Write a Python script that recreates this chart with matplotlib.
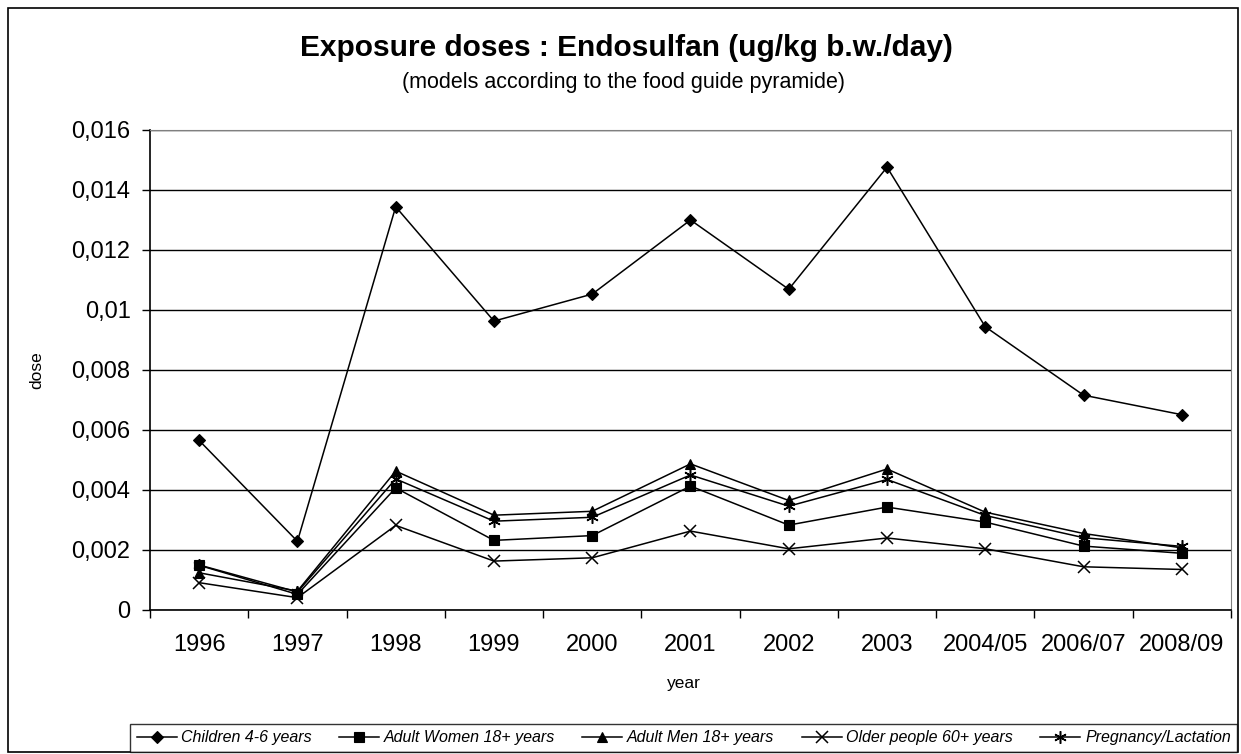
import matplotlib
matplotlib.use("Agg")
import matplotlib.pyplot as plt
from matplotlib.patches import Rectangle
import numpy as np

plt.rcParams['font.family'] = ['Liberation Sans', 'DejaVu Sans']

years = ['1996', '1997', '1998', '1999', '2000', '2001', '2002', '2003',
         '2004/05', '2006/07', '2008/09']

children = [0.00565, 0.00229, 0.01344, 0.00963, 0.01053, 0.01300, 0.01069,
            0.01476, 0.00944, 0.00716, 0.00651]
women = [0.00149, 0.00052, 0.00407, 0.00232, 0.00248, 0.00413, 0.00283,
         0.00343, 0.00293, 0.00213, 0.00189]
men = [0.00124, 0.00063, 0.00463, 0.00316, 0.00329, 0.00487, 0.00365,
       0.00470, 0.00326, 0.00255, 0.00207]
older = [0.00091, 0.00041, 0.00282, 0.00163, 0.00174, 0.00263, 0.00204,
         0.00240, 0.00204, 0.00144, 0.00135]
pregnancy = [0.00150, 0.00060, 0.00437, 0.00296, 0.00309, 0.00450, 0.00346,
             0.00435, 0.00315, 0.00241, 0.00212]

labels = ['Children 4-6 years', 'Adult Women 18+ years', 'Adult Men 18+ years',
          'Older people 60+ years', 'Pregnancy/Lactation']

fig = plt.figure(figsize=(12.41, 7.54), dpi=100)
ax = fig.add_axes([0.1209, 0.191, 0.871, 0.6366])

x = np.arange(len(years))
series = [children, women, men, older, pregnancy]
markers = ['D', 's', '^', 'x', (6, 2, 0)]
msizes = [6, 6.5, 7, 8, 9]
for vals, m, ms, lab in zip(series, markers, msizes, labels):
    ax.plot(x, vals, color='black', lw=1.1, marker=m, markersize=ms,
            markeredgewidth=1.1 if m in ('x',) or isinstance(m, tuple) else 0.8,
            markerfacecolor='black', markeredgecolor='black', label=lab)

ax.set_xlim(-0.5, len(years) - 0.5)
ax.set_ylim(0, 0.016)
yt = np.arange(0, 0.0161, 0.002)
ax.set_yticks(yt)
ax.set_yticklabels([f"{v:.3f}".rstrip('0').rstrip('.').replace('.', ',') if v > 0 else '0' for v in yt],
                   fontsize=17)
ax.yaxis.grid(True, color='black', lw=1)
ax.set_axisbelow(True)
ax.tick_params(axis='y', length=6, width=1, pad=8)

# category axis: ticks between categories, labels at centres
ax.set_xticks(np.arange(-0.5, len(years), 1))
ax.set_xticklabels([])
ax.tick_params(axis='x', which='major', length=5.5, width=1)
ax.set_xticks(x, minor=True)
ax.set_xticklabels(years, minor=True, fontsize=17)
ax.tick_params(axis='x', which='minor', length=0, pad=17)

for s in ['top', 'right']:
    ax.spines[s].set_color('#808080')
for s in ['left', 'bottom']:
    ax.spines[s].set_color('black')
    ax.spines[s].set_linewidth(1.2)

fig.text(0.505, 0.936, 'Exposure doses : Endosulfan (ug/kg b.w./day)',
         ha='center', va='center', fontsize=21.5, fontweight='bold')
fig.text(0.5025, 0.891, '(models according to the food guide pyramide)',
         ha='center', va='center', fontsize=15.5)
fig.text(0.03, 0.509, 'dose', rotation=90, ha='center', va='center', fontsize=12.5)
fig.text(0.551, 0.094, 'year', ha='center', va='center', fontsize=12.5)

leg = fig.legend(loc='lower left', bbox_to_anchor=(0.105, 0.003, 0.892, 0.053),
                 mode='expand', ncol=5, prop={'style': 'italic', 'size': 11.5},
                 frameon=True, fancybox=False, borderaxespad=0, handlelength=2.5,
                 handletextpad=0.3, columnspacing=0.5)
leg.get_frame().set_edgecolor('black')
leg.get_frame().set_linewidth(1)

fig.patches.append(Rectangle((8 / 1241, 0.002), 1230 / 1241, 1 - 8 / 754 - 0.002,
                             transform=fig.transFigure,
                             fill=False, edgecolor='black', lw=1.2))

fig.savefig('out.png', dpi=100)
